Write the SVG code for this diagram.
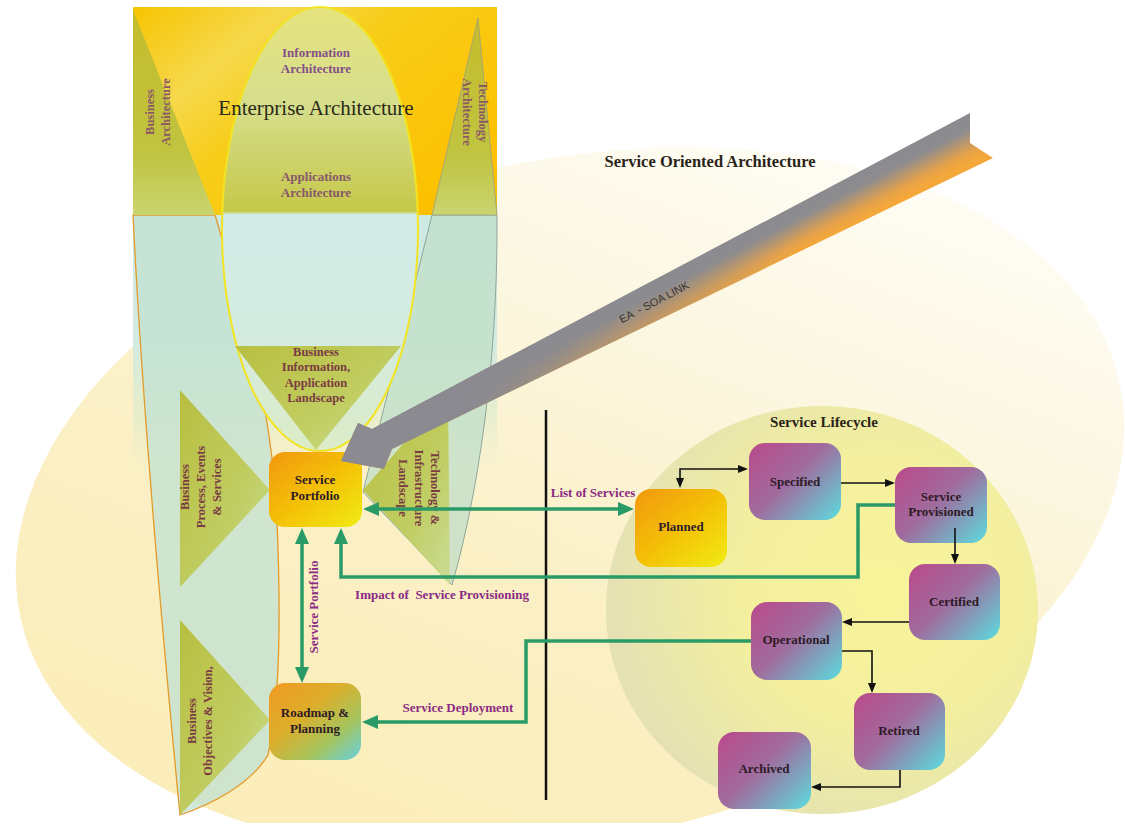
<svg xmlns="http://www.w3.org/2000/svg" width="1125" height="828" viewBox="0 0 1125 828">
  <style>
    .serif { font-family: "Liberation Serif", "DejaVu Serif", serif; }
    .b { font-weight: bold; }
    .ea-title { font-size: 21px; fill: #2b2a18; }
    .ea-sub { font-size: 13px; fill: #84508a; }
    .ea-side { font-size: 12.5px; fill: #8a5866; }
    .land { font-size: 12.5px; fill: #7a3c42; }
    .node-text { font-size: 13px; fill: #2e1a26; }
    .flow-lbl { font-size: 13px; fill: #8c2a84; }
    .area-lbl { fill: #2a2418; }
    .green { fill: none; stroke: #2a9a66; stroke-width: 3.5; }
    .black { fill: none; stroke: #111; stroke-width: 1.6; }
    .tri { fill: url(#olive); opacity: 0.92; }
  </style>
  <defs>
    <linearGradient id="soaFill" x1="0.1" y1="0.85" x2="0.9" y2="0.1">
      <stop offset="0" stop-color="#fbedb8"/>
      <stop offset="0.4" stop-color="#fbf0c6"/>
      <stop offset="0.7" stop-color="#fcf7e2"/>
      <stop offset="1" stop-color="#fffdf8"/>
    </linearGradient>
    <radialGradient id="lifeFill" cx="0.64" cy="0.45" r="0.62">
      <stop offset="0" stop-color="#f8f49a"/>
      <stop offset="0.55" stop-color="#f3ef9f"/>
      <stop offset="1" stop-color="#e4e2b2"/>
    </radialGradient>
    <linearGradient id="eaTop" x1="0" y1="0" x2="1" y2="0.7">
      <stop offset="0" stop-color="#f7c400"/>
      <stop offset="0.28" stop-color="#f6d84c"/>
      <stop offset="0.5" stop-color="#f8cd18"/>
      <stop offset="1" stop-color="#fcc000"/>
    </linearGradient>
    <linearGradient id="cyanFade" gradientUnits="userSpaceOnUse" x1="0" y1="215" x2="0" y2="470">
      <stop offset="0" stop-color="#cde9e4"/>
      <stop offset="0.5" stop-color="#d2ebe2"/>
      <stop offset="0.8" stop-color="#d6eacc" stop-opacity="0.5"/>
      <stop offset="1" stop-color="#e0ecc8" stop-opacity="0"/>
    </linearGradient>
    <linearGradient id="midEllipse" gradientUnits="userSpaceOnUse" x1="0" y1="6" x2="0" y2="452">
      <stop offset="0" stop-color="#e6e37e"/>
      <stop offset="0.22" stop-color="#d6de8c"/>
      <stop offset="0.46" stop-color="#c6c84a"/>
      <stop offset="0.468" stop-color="#d3ece7"/>
      <stop offset="0.75" stop-color="#d4ebe0"/>
      <stop offset="1" stop-color="#dcecc6"/>
    </linearGradient>
    <linearGradient id="olive" x1="0" y1="0" x2="1" y2="1">
      <stop offset="0" stop-color="#b6bb33"/>
      <stop offset="0.6" stop-color="#bfcb58"/>
      <stop offset="1" stop-color="#cadc92"/>
    </linearGradient>
    <linearGradient id="oliveTop" x1="0" y1="0" x2="0" y2="1">
      <stop offset="0" stop-color="#c4bc2c"/>
      <stop offset="0.7" stop-color="#c0c440"/>
      <stop offset="1" stop-color="#cad470"/>
    </linearGradient>
    <linearGradient id="orangeNode" x1="0" y1="0" x2="1" y2="1">
      <stop offset="0" stop-color="#f29810"/>
      <stop offset="0.5" stop-color="#f4c006"/>
      <stop offset="1" stop-color="#f0ec14"/>
    </linearGradient>
    <linearGradient id="roadNode" x1="0" y1="0" x2="1" y2="1">
      <stop offset="0" stop-color="#f29a22"/>
      <stop offset="0.4" stop-color="#dcae2c"/>
      <stop offset="0.7" stop-color="#a6c45c"/>
      <stop offset="1" stop-color="#66d0e2"/>
    </linearGradient>
    <linearGradient id="stateNode" x1="0" y1="0.1" x2="1" y2="0.95">
      <stop offset="0" stop-color="#b84c8c"/>
      <stop offset="0.45" stop-color="#a06c9e"/>
      <stop offset="1" stop-color="#5ed8dc"/>
    </linearGradient>
    <!-- across the shaft: grey upper side, orange lower side -->
    <linearGradient id="linkAcross" gradientUnits="userSpaceOnUse" x1="690" y1="258" x2="711" y2="298">
      <stop offset="0" stop-color="#8a8a90"/>
      <stop offset="0.35" stop-color="#8e8c8e"/>
      <stop offset="0.8" stop-color="#e6a24a"/>
      <stop offset="1" stop-color="#f4a83a"/>
    </linearGradient>
    <!-- along the shaft: grey near the head, fading out toward the tail -->
    <linearGradient id="linkAlong" gradientUnits="userSpaceOnUse" x1="470" y1="0" x2="800" y2="0">
      <stop offset="0" stop-color="#8a8a90" stop-opacity="1"/>
      <stop offset="1" stop-color="#8a8a90" stop-opacity="0"/>
    </linearGradient>
    <marker id="gArrow" viewBox="0 0 16 14" refX="12" refY="7" markerWidth="16" markerHeight="14" markerUnits="userSpaceOnUse" orient="auto-start-reverse">
      <path d="M0,0 L16,7 L0,14 Z" fill="#2a9a66"/>
    </marker>
    <marker id="kArrow" viewBox="0 0 10 8" refX="8" refY="4" markerWidth="10" markerHeight="8" markerUnits="userSpaceOnUse" orient="auto-start-reverse">
      <path d="M0,0 L10,4 L0,8 Z" fill="#111"/>
    </marker>
  </defs>

  <rect width="1125" height="828" fill="#ffffff"/>

  <!-- SOA region and lifecycle region -->
  <g id="soa-region">
    <ellipse cx="570" cy="500" rx="562" ry="340" transform="rotate(-12 570 500)" fill="url(#soaFill)"/>
    <text class="serif b area-lbl" x="710" y="167" font-size="16.5" text-anchor="middle">Service Oriented Architecture</text>
  </g>
  <g id="lifecycle-region">
    <ellipse cx="822" cy="610" rx="216" ry="204" fill="url(#lifeFill)"/>
    <text class="serif b area-lbl" x="824" y="427" font-size="15" text-anchor="middle">Service Lifecycle</text>
  </g>

  <!-- Enterprise architecture block -->
  <g id="enterprise-architecture">
    <rect x="133" y="215" width="364" height="255" fill="url(#cyanFade)"/>
    <!-- business band -->
    <path d="M133,215 L215,215 C240,300 272,400 277,520 C281,620 280,700 268,755 C250,785 210,805 180,815 C163,640 143,420 133,215 Z" fill="#c3e2d2" fill-opacity="0.78" stroke="#e49a2a" stroke-width="1.3"/>
    <!-- technology band -->
    <path d="M432,215 L497,215 C498,330 485,470 452,585 L363,492 Z" fill="#c2dfc9" fill-opacity="0.78" stroke="#8fa79a" stroke-width="1"/>
    <rect x="133" y="7" width="364" height="208" fill="url(#eaTop)"/>
    <path d="M133,10 L215,215 L133,215 Z" fill="url(#oliveTop)"/>
    <path d="M478,18 L497,215 L432,215 Z" fill="url(#oliveTop)" stroke="#9aa080" stroke-width="0.8"/>
    <ellipse cx="320" cy="229" rx="98" ry="222" fill="url(#midEllipse)" stroke="#f2e424" stroke-width="2"/>
    <path class="tri" d="M235,346 L401,346 L316,450 Z"/>
    <path class="tri" d="M180,390 L180,587 L270,490 Z"/>
    <path class="tri" d="M180,620 L180,815 L270,720 Z"/>
    <path class="tri" d="M448,392 L450,585 L363,490 Z"/>

    <text class="serif ea-title" x="316" y="115" text-anchor="middle">Enterprise Architecture</text>
    <text class="serif b ea-sub" text-anchor="middle"><tspan x="316" y="57">Information</tspan><tspan x="316" y="73">Architecture</tspan></text>
    <text class="serif b ea-sub" text-anchor="middle" style="fill:#86586a"><tspan x="316" y="181">Applications</tspan><tspan x="316" y="197">Architecture</tspan></text>
    <text class="serif b ea-side" text-anchor="middle" transform="translate(154,112) rotate(-90)"><tspan x="0" y="0">Business</tspan><tspan x="0" y="16">Architecture</tspan></text>
    <text class="serif b ea-side" text-anchor="middle" transform="translate(479,112) rotate(90)"><tspan x="0" y="0">Technology</tspan><tspan x="0" y="16">Architecture</tspan></text>
    <text class="serif b land" text-anchor="middle"><tspan x="316" y="356">Business</tspan><tspan x="316" y="371">Information,</tspan><tspan x="316" y="387">Application</tspan><tspan x="316" y="402">Landscape</tspan></text>
    <text class="serif b land" text-anchor="middle" transform="translate(189,487) rotate(-90)"><tspan x="0" y="0">Business</tspan><tspan x="0" y="16">Process, Events</tspan><tspan x="0" y="32">&amp; Services</tspan></text>
    <text class="serif b land" text-anchor="middle" transform="translate(196,721) rotate(-90)"><tspan x="0" y="0">Business</tspan><tspan x="0" y="16">Objectives &amp; Vision,</tspan></text>
    <text class="serif b land" text-anchor="middle" transform="translate(431,488) rotate(90)"><tspan x="0" y="0">Technology &amp;</tspan><tspan x="0" y="16">Infrastructure</tspan><tspan x="0" y="32">Landscape</tspan></text>
  </g>

  <!-- boundary between EA and SOA sides -->
  <line x1="546" y1="410" x2="546" y2="800" stroke="#111" stroke-width="2.5"/>

  <!-- nodes -->
  <g id="node-service-portfolio">
    <rect x="269" y="452" width="93" height="75" rx="16" fill="url(#orangeNode)"/>
    <text class="serif b node-text" text-anchor="middle"><tspan x="315" y="484">Service</tspan><tspan x="315" y="500">Portfolio</tspan></text>
  </g>
  <g id="node-roadmap">
    <rect x="269" y="683" width="92" height="77" rx="16" fill="url(#roadNode)"/>
    <text class="serif b node-text" text-anchor="middle"><tspan x="315" y="717">Roadmap &amp;</tspan><tspan x="315" y="733">Planning</tspan></text>
  </g>
  <g id="node-planned">
    <rect x="635" y="489" width="92" height="78" rx="16" fill="url(#orangeNode)"/>
    <text class="serif b node-text" x="681" y="531" text-anchor="middle">Planned</text>
  </g>
  <g id="node-specified">
    <rect x="749" y="443" width="92" height="77" rx="16" fill="url(#stateNode)"/>
    <text class="serif b node-text" x="795" y="486" text-anchor="middle">Specified</text>
  </g>
  <g id="node-service-provisioned">
    <rect x="895" y="467" width="92" height="76" rx="16" fill="url(#stateNode)"/>
    <text class="serif b node-text" text-anchor="middle"><tspan x="941" y="501">Service</tspan><tspan x="941" y="516">Provisioned</tspan></text>
  </g>
  <g id="node-certified">
    <rect x="909" y="564" width="91" height="76" rx="16" fill="url(#stateNode)"/>
    <text class="serif b node-text" x="954" y="606" text-anchor="middle">Certified</text>
  </g>
  <g id="node-operational">
    <rect x="751" y="602" width="91" height="78" rx="16" fill="url(#stateNode)"/>
    <text class="serif b node-text" x="796" y="644" text-anchor="middle">Operational</text>
  </g>
  <g id="node-retired">
    <rect x="854" y="693" width="91" height="77" rx="16" fill="url(#stateNode)"/>
    <text class="serif b node-text" x="899" y="735" text-anchor="middle">Retired</text>
  </g>
  <g id="node-archived">
    <rect x="718" y="732" width="93" height="77" rx="16" fill="url(#stateNode)"/>
    <text class="serif b node-text" x="764" y="773" text-anchor="middle">Archived</text>
  </g>

  <!-- connectors -->
  <g id="connectors">
    <path class="green" d="M367,509 H630" marker-start="url(#gArrow)" marker-end="url(#gArrow)"/>
    <path class="green" d="M895,505 H858 V577 H341 V532" marker-end="url(#gArrow)"/>
    <path class="green" d="M302,532 V679" marker-start="url(#gArrow)" marker-end="url(#gArrow)"/>
    <path class="green" d="M751,641 H526 V722 H366" marker-end="url(#gArrow)"/>

    <path class="black" d="M680,486 V469 H746" marker-start="url(#kArrow)" marker-end="url(#kArrow)"/>
    <path class="black" d="M841,483 H893" marker-end="url(#kArrow)"/>
    <path class="black" d="M955,528 V562" marker-end="url(#kArrow)"/>
    <path class="black" d="M909,622 H844" marker-end="url(#kArrow)"/>
    <path class="black" d="M842,651 H872 V691" marker-end="url(#kArrow)"/>
    <path class="black" d="M900,770 V787 H813" marker-end="url(#kArrow)"/>

    <text class="serif b flow-lbl" x="593" y="497" text-anchor="middle">List of Services</text>
    <text class="serif b flow-lbl" x="442" y="599" text-anchor="middle" xml:space="preserve">Impact of  Service Provisioning</text>
    <text class="serif b flow-lbl" x="458" y="712" text-anchor="middle">Service Deployment</text>
    <text class="serif b flow-lbl" text-anchor="middle" transform="translate(318,607) rotate(-90)">Service Portfolio</text>

    <g id="ea-soa-link">
      <path d="M970,113 L372,429 L358,423 L341,461 L384,469 L392,449 L993,158 L970,143 Z" fill="url(#linkAcross)"/>
      <path d="M970,113 L372,429 L358,423 L341,461 L384,469 L392,449 L993,158 L970,143 Z" fill="url(#linkAlong)"/>
      <text x="0" y="4" transform="translate(654,302) rotate(-27.7)" font-family="Liberation Sans, Arial, sans-serif" font-size="11" fill="#333" text-anchor="middle" xml:space="preserve">EA  - SOA LINK</text>
    </g>
  </g>

  <rect x="0" y="823" width="1125" height="5" fill="#ffffff"/>
</svg>
